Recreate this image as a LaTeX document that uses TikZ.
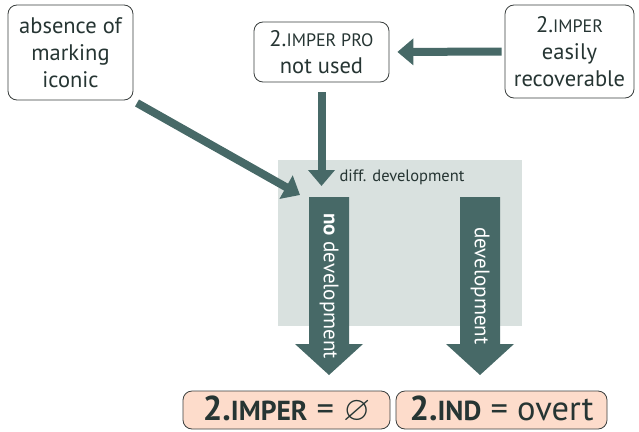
\documentclass[tikz,border=0pt]{standalone}
\usepackage{fontspec}
\setmainfont{PT Sans}
\usepackage{amssymb}
\usetikzlibrary{arrows.meta}
\definecolor{arrcol}{HTML}{476967}
\definecolor{bgcol}{HTML}{D9E1DF}
\definecolor{peach}{HTML}{FDDCCB}
\definecolor{txtcol}{HTML}{263533}
\definecolor{bordcol}{HTML}{3A3F3E}
\newcommand\msc[2]{{\fontsize{#1}{#1}\selectfont #2}}
\begin{document}
\begin{tikzpicture}[x=1pt,y=-1pt,
  topbox/.style={draw=bordcol, line width=0.8pt, rounded corners=9pt, fill=white,
    align=center, inner sep=0pt, text=txtcol,
    font=\fontsize{22.5}{27}\selectfont},
  botbox/.style={draw=bordcol, line width=0.8pt, rounded corners=9pt, fill=peach,
    align=center, inner sep=0pt, text=txtcol, text height=25pt, text depth=4pt,
    font=\fontsize{34.5}{34.5}\selectfont},
  thickarr/.style={draw=arrcol, line width=8pt, -{Triangle[width=26pt,length=16pt]}},
  blockarr/.style={fill=arrcol},
  shafttxt/.style={rotate=-90, text=white, font=\fontsize{21}{21}\selectfont}
]
\useasboundingbox (0,0) rectangle (639,431);
\fill[bgcol] (278,160) rectangle (522,326);

\node[topbox, minimum width=125pt, minimum height=95pt] (abs) at (70.5,52.5) {absence of\\marking\\iconic};
\node[topbox, minimum width=135pt, minimum height=60pt] (pro) at (321.5,52) {2.\msc{18}{IMPER PRO}\\not used};
\node[topbox, minimum width=129pt, minimum height=93pt] (rec) at (569.5,51.5) {2.\msc{18}{IMPER}\\easily\\recoverable};

\coordinate (t1) at (321.5,186);
\coordinate (s2) at (137,103);
\coordinate (t2) at (300,195);

\draw[thickarr, shorten <=3pt, shorten >=8pt] (rec.west) -- (pro.east);
\draw[thickarr, shorten <=10pt] (pro.south) -- (t1);
\draw[thickarr] (s2) -- (t2);

\node[anchor=west, text=txtcol, font=\fontsize{16.5}{16.5}\selectfont] (diff) at (336,177) {diff. development};

\fill[blockarr] (309,197) -- (349,197) -- (349,344) -- (363,344) -- (329,375) -- (295,344) -- (309,344) -- cycle;
\fill[blockarr] (460,197) -- (500,197) -- (500,344) -- (514,344) -- (480,375) -- (446,344) -- (460,344) -- cycle;
\node[shafttxt] (nodev) at (329,286) {\textbf{no} development};
\node[shafttxt] (dev) at (480,286) {development};

\node[botbox, minimum width=207pt, minimum height=38pt] (b1) at (286.5,410) {\textbf{2.\msc{27.5}{IMPER}} = $\varnothing$};
\node[botbox, minimum width=211pt, minimum height=38pt] (b2) at (501.5,410) {\textbf{2.\msc{27.5}{IND}} = overt};
\end{tikzpicture}
\end{document}
